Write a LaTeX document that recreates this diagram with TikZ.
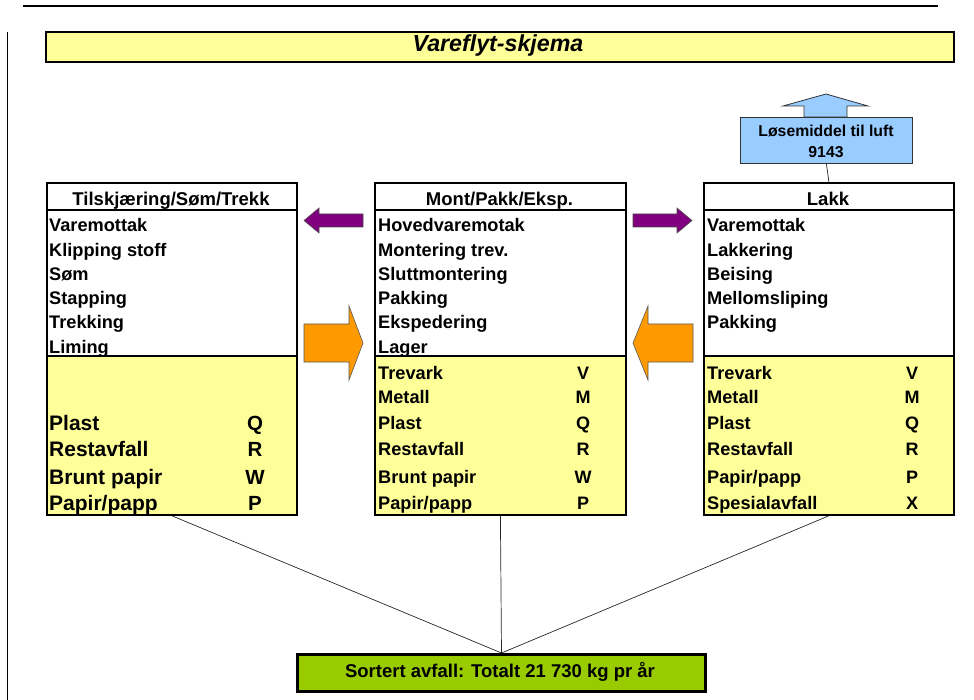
\documentclass[tikz,border=0pt]{standalone}
\usepackage{fontspec}
\setmainfont{Liberation Sans}
\definecolor{paleyel}{HTML}{FFFF99}
\definecolor{skyblue}{HTML}{99CCFF}
\definecolor{limegreen}{HTML}{99CC00}
\definecolor{purp}{HTML}{800080}
\definecolor{orng}{HTML}{FF9900}
\begin{document}
\begin{tikzpicture}[x=1pt,y=-1pt,
  boxline/.style={line width=1.8pt},
  stagebox/.style={draw, line width=1.8pt, minimum width=250pt, minimum height=332pt, inner sep=0pt, anchor=north west},
  row/.style={anchor=base west, inner sep=0pt, font=\fontsize{18.2}{20}\selectfont\bfseries},
  bigrow/.style={anchor=base west, inner sep=0pt, font=\fontsize{21}{24}\selectfont\bfseries},
  code/.style={anchor=base, inner sep=0pt, font=\fontsize{18}{20}\selectfont\bfseries},
  bigcode/.style={anchor=base, inner sep=0pt, font=\fontsize{20.5}{24}\selectfont\bfseries},
  head/.style={anchor=base, inner sep=0pt, font=\fontsize{18.5}{20}\selectfont\bfseries},
  purparrow/.style={fill=purp, draw=black!70, line width=0.6pt},
  orarrow/.style={fill=orng, draw=black!65, line width=0.6pt},
  link/.style={draw=black!85, line width=0.7pt}
]
\path[use as bounding box] (0,0) rectangle (974,700);

% page rule and margin line
\draw[line width=1.7pt] (23,6) -- (938,6);
\draw[line width=1.7pt] (7.5,32) -- (7.5,700);

% title bar
\node[draw, line width=2pt, fill=paleyel, minimum width=908pt, minimum height=30pt, inner sep=0pt, anchor=north west] (title) at (45,31) {};
\node[font=\fontsize{23.2}{26}\selectfont\bfseries\itshape, inner sep=0pt] (titletext) at (498,46) {Vareflyt-skjema};

% fills of stage boxes
\fill[white] (46,182) rectangle (296,356);
\fill[paleyel] (46,356) rectangle (296,514);
\fill[white] (374,182) rectangle (625,356);
\fill[paleyel] (374,356) rectangle (625,514);
\fill[white] (703,182) rectangle (953,356);
\fill[paleyel] (703,356) rectangle (953,514);

% dividers
\draw[boxline] (46,210) -- (296,210);
\draw[boxline] (46,356) -- (296,356);
\draw[boxline] (374,210) -- (625,210);
\draw[boxline] (374,356) -- (625,356);
\draw[boxline] (703,210) -- (953,210);
\draw[boxline] (703,356) -- (953,356);

% outlines
\node[stagebox] (left) at (46,182) {};
\node[stagebox, minimum width=251pt] (mid) at (374,182) {};
\node[stagebox] (right) at (703,182) {};

% left box texts
\node[head] (lh) at (171,206) {Tilskjæring/Søm/Trekk};
\node[row] (l1) at (49,232) {Varemottak};
\node[row] (l2) at (49,256.2) {Klipping stoff};
\node[row] (l3) at (49,280.4) {Søm};
\node[row] (l4) at (49,304.6) {Stapping};
\node[row] (l5) at (49,328.8) {Trekking};
\node[row] (l6) at (49,353) {Liming};
\node[bigrow] (l7) at (49,430) {Plast};
\node[bigrow] (l8) at (49,456) {Restavfall};
\node[bigrow] (l9) at (49,484) {Brunt papir};
\node[bigrow] (l10) at (49,510) {Papir/papp};
\node[bigcode] (lc7) at (255,430) {Q};
\node[bigcode] (lc8) at (255,456) {R};
\node[bigcode] (lc9) at (255,484) {W};
\node[bigcode] (lc10) at (255,510) {P};

% middle box texts
\node[head] (mh) at (499.5,206) {Mont/Pakk/Eksp.};
\node[row] (m1) at (378,232) {Hovedvaremotak};
\node[row] (m2) at (378,256.2) {Montering trev.};
\node[row] (m3) at (378,280.4) {Sluttmontering};
\node[row] (m4) at (378,304.6) {Pakking};
\node[row] (m5) at (378,328.8) {Ekspedering};
\node[row] (m6) at (378,353) {Lager};
\node[row] (m7) at (378,379) {Trevark};
\node[row] (m8) at (378,403) {Metall};
\node[row] (m9) at (378,429) {Plast};
\node[row] (m10) at (378,455) {Restavfall};
\node[row] (m11) at (378,483) {Brunt papir};
\node[row] (m12) at (378,509) {Papir/papp};
\node[code] (mc7) at (583,379) {V};
\node[code] (mc8) at (583,403) {M};
\node[code] (mc9) at (583,429) {Q};
\node[code] (mc10) at (583,455) {R};
\node[code] (mc11) at (583,483) {W};
\node[code] (mc12) at (583,509) {P};

% right box texts
\node[head] (rh) at (828,206) {Lakk};
\node[row] (r1) at (707,232) {Varemottak};
\node[row] (r2) at (707,256.2) {Lakkering};
\node[row] (r3) at (707,280.4) {Beising};
\node[row] (r4) at (707,304.6) {Mellomsliping};
\node[row] (r5) at (707,328.8) {Pakking};
\node[row] (r7) at (707,379) {Trevark};
\node[row] (r8) at (707,403) {Metall};
\node[row] (r9) at (707,429) {Plast};
\node[row] (r10) at (707,455) {Restavfall};
\node[row] (r11) at (707,483) {Papir/papp};
\node[row] (r12) at (707,509) {Spesialavfall};
\node[code] (rc7) at (912,379) {V};
\node[code] (rc8) at (912,403) {M};
\node[code] (rc9) at (912,429) {Q};
\node[code] (rc10) at (912,455) {R};
\node[code] (rc11) at (912,483) {P};
\node[code] (rc12) at (912,509) {X};

% solvent box with up arrow
\draw[fill=skyblue, draw=black!80, line width=0.8pt]
  (804,117) -- (804,106) -- (783,106) -- (826,94) -- (868,106) -- (847,106) -- (847,117) -- cycle;
\node[draw=black!80, line width=0.8pt, fill=skyblue, minimum width=172pt, minimum height=46pt, inner sep=0pt, anchor=north west] (solv) at (740,117) {};
\node[anchor=base, inner sep=0pt, font=\fontsize{15.8}{18}\selectfont\bfseries] (solv1) at (826,136.5) {Løsemiddel til luft};
\node[anchor=base, inner sep=0pt, font=\fontsize{15.8}{18}\selectfont\bfseries] (solv2) at (826,157.5) {9143};
\draw[link] (solv.south) -- (right.north);

% purple arrows
\draw[purparrow] (304,220.5) -- (319,208) -- (319,214) -- (363,214) -- (363,227) -- (319,227) -- (319,233) -- cycle;
\draw[purparrow] (692,220.5) -- (677,208) -- (677,214) -- (633,214) -- (633,227) -- (677,227) -- (677,233) -- cycle;

% orange arrows
\draw[orarrow] (363,343) -- (349,306) -- (349,324) -- (304,324) -- (304,362) -- (349,362) -- (349,380) -- cycle;
\draw[orarrow] (633,343) -- (648,306) -- (648,324) -- (693,324) -- (693,362) -- (648,362) -- (648,380) -- cycle;

% total box
\node[draw, line width=3pt, fill=limegreen, minimum width=408pt, minimum height=37pt, inner sep=0pt, anchor=north west] (total) at (296,653) {};
\node[inner sep=0pt, font=\fontsize{18.5}{22}\selectfont\bfseries] (totaltext) at (500,672) {Sortert avfall: Totalt 21 730 kg pr år};

% connectors to total
\draw[link] (left.south) -- (total.north);
\draw[link] (mid.south) -- (total.north);
\draw[link] (right.south) -- (total.north);
\end{tikzpicture}
\end{document}
